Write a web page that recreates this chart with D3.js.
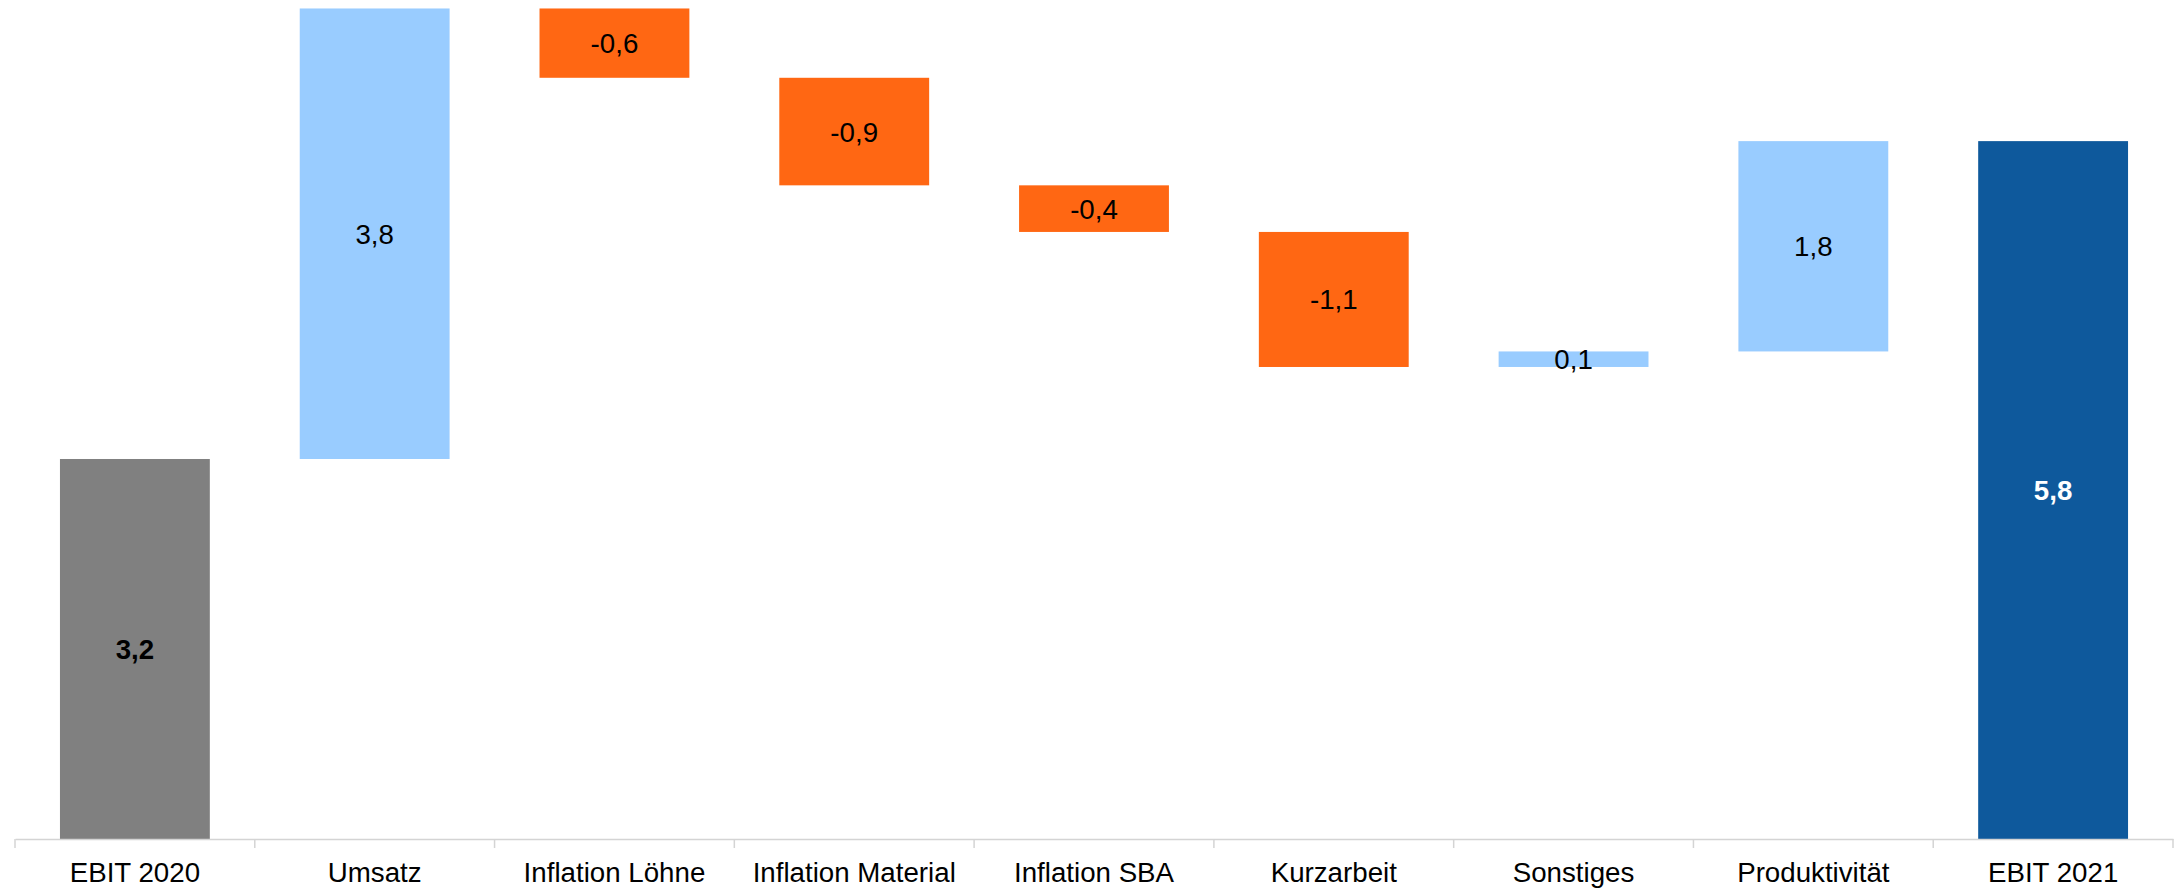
<!DOCTYPE html>
<html>
<head>
<meta charset="utf-8">
<script src="https://cdn.jsdelivr.net/npm/d3@7"></script>
<style>
  html, body { margin: 0; padding: 0; background: #fff; }
  svg { display: block; font-family: "Liberation Sans", Arial, sans-serif; }
</style>
</head>
<body>
<script>
// waterfall: EBIT bridge 2020 -> 2021
var categories = ["EBIT 2020", "Umsatz", "Inflation Löhne", "Inflation Material", "Inflation SBA", "Kurzarbeit", "Sonstiges", "Produktivität", "EBIT 2021"];
var values = [3.18, 3.77, -0.58, -0.90, -0.39, -1.13, 0.13, 1.76, 5.84];
var kinds = ["start", "delta", "delta", "delta", "delta", "delta", "delta", "delta", "end"];
var labels = ["3,2", "3,8", "-0,6", "-0,9", "-0,4", "-1,1", "0,1", "1,8", "5,8"];

var width = 2182, height = 889;
var fontSize = 27.7;

var svg = d3.select("body").append("svg")
  .attr("width", width)
  .attr("height", height);

var x = d3.scaleBand()
  .domain(categories)
  .range([15, 2173])
  .paddingInner(0.375)
  .paddingOuter(0.1875);

var y = d3.scaleLinear()
  .domain([0, 7])
  .range([839, 2.5]);

// running totals for the floating bars
var run = 0;
var bars = categories.map(function(c, i) {
  var v = values[i], lo, hi;
  if (kinds[i] == "delta") {
    lo = Math.min(run, run + v); hi = Math.max(run, run + v);
    run += v;
  } else {
    lo = 0; hi = v; run = v;
  }
  return { cat: c, kind: kinds[i], v: v, lo: lo, hi: hi, label: labels[i] };
});

function fillOf(d) {
  if (d.kind == "start") return "#808080";
  if (d.kind == "end") return "#0E599C";
  return d.v < 0 ? "#FF6713" : "#99CCFF";
}

svg.selectAll("rect.bar")
  .data(bars)
  .enter().append("rect")
  .attr("class", "bar")
  .attr("x", function(d) { return x(d.cat); })
  .attr("width", x.bandwidth())
  .attr("y", function(d) { return y(d.hi); })
  .attr("height", function(d) { return y(d.lo) - y(d.hi); })
  .attr("fill", fillOf);

svg.selectAll("text.val")
  .data(bars)
  .enter().append("text")
  .attr("class", "val")
  .attr("x", function(d) { return x(d.cat) + x.bandwidth() / 2; })
  .attr("y", function(d) { return (y(d.lo) + y(d.hi)) / 2; })
  .attr("dy", "0.36em")
  .attr("text-anchor", "middle")
  .attr("font-size", fontSize)
  .attr("font-weight", function(d) { return d.kind == "delta" ? "normal" : "bold"; })
  .attr("fill", function(d) { return d.kind == "end" ? "#fff" : "#000"; })
  .text(function(d) { return d.label; });

// category axis
var axis = svg.append("g")
  .attr("transform", "translate(0," + y(0) + ")")
  .call(d3.axisBottom(x).tickSize(0).tickSizeOuter(0).tickPadding(23));

axis.select(".domain").attr("stroke", "#d4d4d4").attr("stroke-width", 1.5);
axis.selectAll("text")
  .attr("font-size", fontSize)
  .attr("font-family", "Liberation Sans, Arial, sans-serif")
  .attr("fill", "#000");

// tick marks sit between the categories
var gap = (x.step() - x.bandwidth()) / 2;
var bounds = categories.map(function(c) { return x(c) - gap; });
bounds.push(x(categories[categories.length - 1]) + x.bandwidth() + gap);

axis.selectAll("line.sep")
  .data(bounds)
  .enter().append("line")
  .attr("class", "sep")
  .attr("x1", function(d) { return d; })
  .attr("x2", function(d) { return d; })
  .attr("y1", 0)
  .attr("y2", 9)
  .attr("stroke", "#d4d4d4")
  .attr("stroke-width", 1.5);
</script>
</body>
</html>
